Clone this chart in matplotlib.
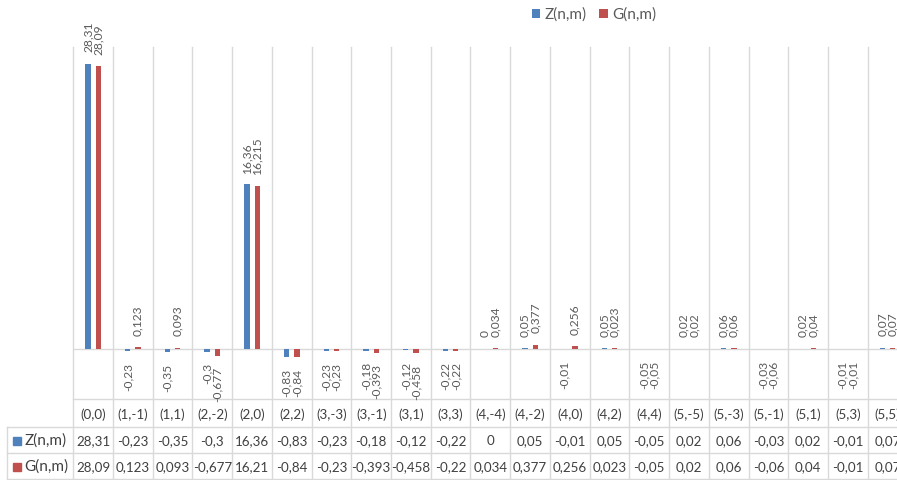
import matplotlib
matplotlib.use("Agg")
import matplotlib.pyplot as plt
from matplotlib.transforms import blended_transform_factory

plt.rcParams['font.family'] = ['Lato', 'DejaVu Sans']

categories = ["(0,0)", "(1,-1)", "(1,1)", "(2,-2)", "(2,0)", "(2,2)", "(3,-3)", "(3,-1)",
              "(3,1)", "(3,3)", "(4,-4)", "(4,-2)", "(4,0)", "(4,2)", "(4,4)", "(5,-5)",
              "(5,-3)", "(5,-1)", "(5,1)", "(5,3)", "(5,5)"]
z_values = [28.31, -0.23, -0.35, -0.3, 16.36, -0.83, -0.23, -0.18, -0.12, -0.22, 0,
            0.05, -0.01, 0.05, -0.05, 0.02, 0.06, -0.03, 0.02, -0.01, 0.07]
g_values = [28.09, 0.123, 0.093, -0.677, 16.215, -0.84, -0.23, -0.393, -0.458, -0.22, 0.034,
            0.377, 0.256, 0.023, -0.05, 0.02, 0.06, -0.06, 0.04, -0.01, 0.07]
series_names = ["Z(n,m)", "G(n,m)"]
colors = ["#4F81BD", "#C0504D"]

W, H = 897, 480
fig = plt.figure(figsize=(W / 100, H / 100), dpi=100)
renderer = fig.canvas.get_renderer()


def fit_size(sample, target_px, base=10.0):
    t = fig.text(0, 0, sample, fontsize=base)
    w = t.get_window_extent(renderer).width
    t.remove()
    return base * target_px / w


fs_lab = fit_size("0,123", 30.5)
fs_t = fit_size("28,31", 34)
fs_row = fit_size("Z(n,m)", 42)
fs_leg = fit_size("Z(n,m)", 42)


def fy(py):
    return 1 - py / H


ax_left, ax_right, ax_top, ax_bot = 73.3, 907.4, 47, 399
ax = fig.add_axes([ax_left / W, fy(ax_bot), (ax_right - ax_left) / W, (ax_bot - ax_top) / H])
ax.set_xlim(-0.5, len(categories) - 0.5)
ax.set_ylim(-5, 30)
for s in ax.spines.values():
    s.set_visible(False)
ax.set_xticks([])
ax.set_yticks([])

grid_c = "#D9D9D9"
label_c = "#595959"
table_c = "#404040"

x = list(range(len(categories)))
bw = 0.135
off = 0.13
bars = []
for k, (vals, col) in enumerate(zip([z_values, g_values], colors)):
    xs = [i + (off if k else -off) for i in x]
    b = ax.bar(xs, vals, width=bw, color=col, zorder=3, label=series_names[k])
    bars.append(b)
    for xi, v in zip(xs, vals):
        txt = ("%g" % v).replace(".", ",")
        if v >= 0:
            ax.annotate(txt, (xi, v), xytext=(0, 8.3), textcoords="offset points",
                        rotation=90, ha="center", va="bottom", fontsize=fs_lab, color=label_c,
                        annotation_clip=False)
        else:
            ax.annotate(txt, (xi, v), xytext=(0, -8.3), textcoords="offset points",
                        rotation=90, ha="center", va="top", fontsize=fs_lab, color=label_c,
                        annotation_clip=False)

ax.axhline(0, color=grid_c, lw=1.0, zorder=2)

tr = blended_transform_factory(ax.transData, fig.transFigure)
ftr = fig.transFigure

# vertical gridlines / table column lines
for i in range(len(categories) + 1):
    ax.plot([i - 0.5, i - 0.5], [fy(47), fy(479)], color=grid_c, lw=1.0,
            transform=tr, clip_on=False, zorder=1)

# table horizontal lines
ax.plot([-0.5, len(categories) - 0.5], [fy(398.5), fy(398.5)], color=grid_c, lw=1.0,
        transform=tr, clip_on=False)
for py in [427, 453, 479]:
    fig.add_artist(plt.Line2D([7.3 / W, 1], [fy(py), fy(py)], color=grid_c, lw=1.0,
                              transform=ftr))
fig.add_artist(plt.Line2D([7.3 / W, 7.3 / W], [fy(427), fy(479)], color=grid_c, lw=1.0,
                          transform=ftr))


def tfmt(v):
    if abs(v) >= 10:
        v = round(v, 2)
    return ("%g" % v).replace(".", ",")


for i, c in enumerate(categories):
    ax.text(i, fy(415), c, transform=tr, ha="center", va="center", fontsize=fs_t,
            color=table_c, clip_on=False)
    ax.text(i, fy(441), tfmt(z_values[i]), transform=tr, ha="center", va="center",
            fontsize=fs_t, color=table_c, clip_on=False)
    ax.text(i, fy(467), tfmt(g_values[i]), transform=tr, ha="center", va="center",
            fontsize=fs_t, color=table_c, clip_on=False)

# row labels with colour keys
for py, name, col in [(441, series_names[0], colors[0]), (467, series_names[1], colors[1])]:
    fig.add_artist(plt.Rectangle((13.3 / W, fy(py + 3.7)), 7.5 / W, 7.5 / H, color=col,
                                 transform=ftr))
    fig.text(24.5 / W, fy(py), name, ha="left", va="center", fontsize=fs_row, color=table_c)

fig.legend(handles=bars, labels=series_names, loc="center", bbox_to_anchor=(594 / W, fy(15)),
           ncol=2, frameon=False, fontsize=fs_leg, handlelength=0.55, handleheight=0.55,
           handletextpad=0.3, columnspacing=0.8, labelcolor=label_c)

fig.savefig("out.png", dpi=100)
